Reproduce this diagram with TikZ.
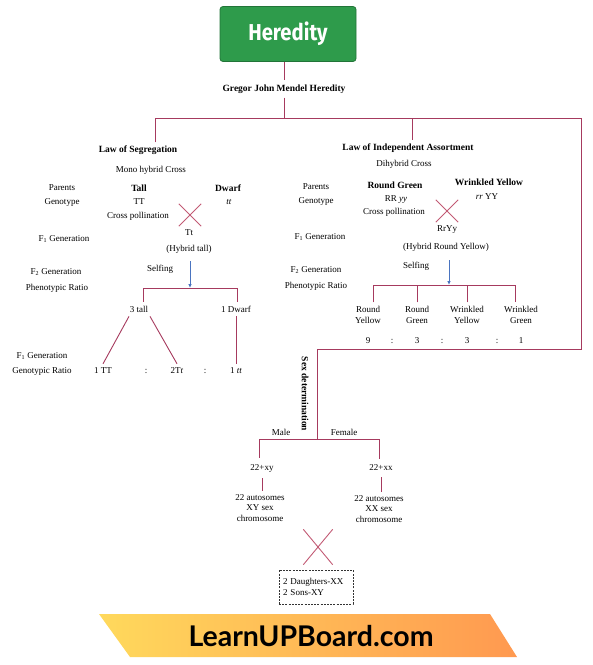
\documentclass[tikz,border=0pt]{standalone}
\usepackage{fontspec}
\setmainfont{Liberation Serif}
\newfontfamily\titlefont{Fira Sans}
\newfontfamily\bannerfont{Lato}
\usepackage{tikz}
\usetikzlibrary{arrows.meta,positioning,shapes}
\definecolor{linkred}{HTML}{A63A5E}
\definecolor{crossred}{HTML}{C25A74}
\definecolor{flowblue}{HTML}{4A74C0}
\definecolor{titlegreen}{HTML}{2E9B4B}
\definecolor{bannerY}{HTML}{FFD95C}
\definecolor{bannerO}{HTML}{FF9950}

\begin{document}
\begin{tikzpicture}[x=1pt, y=-1pt,
  txt/.style={font=\fontsize{9}{10.5}\selectfont, inner sep=1pt, align=center},
  head/.style={txt, font=\fontsize{9.5}{11}\selectfont\bfseries},
  gap/.style={txt, inner sep=4pt},
  link/.style={draw=linkred, line width=0.9pt},
  cross/.style={draw=crossred, line width=0.9pt},
  flow/.style={draw=flowblue, line width=0.8pt, -{Latex[length=4pt,width=3.5pt]}},
  xmark/.style={inner sep=0pt, minimum width=#1, minimum height=#1},
  xmark/.default=22pt
]
  \useasboundingbox (0,0) rectangle (593,665);

  \node[fill=titlegreen, draw=titlegreen!75!black, line width=0.8pt, rounded corners=3pt,
        minimum width=136pt, minimum height=55pt] (title) at (288,34)
        {\titlefont\bfseries\fontsize{23}{23}\selectfont\color{white}\scalebox{0.88}[1]{Heredity}};
  \node[head, inner sep=4pt] (gregor) at (284,89) {Gregor John Mendel Heredity};

  \coordinate (hL) at (155,118);
  \coordinate (hM) at (412,118);
  \coordinate (hR) at (581,118);
  \coordinate (sexT) at (317,349);

  \node[head, inner sep=3pt] (seg) at (138,150) {Law of Segregation};
  \node[txt] (mono) at (151,170) {Mono hybrid Cross};
  \node[txt] (parL) at (62,188) {Parents};
  \node[txt] (genL) at (62,202) {Genotype};
  \node[head] (tall) at (139,188) {Tall};
  \node[head] (dwarf) at (228,188) {Dwarf};
  \node[txt] (TT) at (139,202) {TT};
  \node[txt] (tt) at (229,202) {\textit{tt}};
  \node[txt] (pollL) at (138,216) {Cross pollination};
  \node[xmark] (xa) at (190,215) {};
  \node[txt] (f1L) at (64,239) {F\textsubscript{1} Generation};
  \node[txt] (Tt) at (189,233) {Tt};
  \node[txt] (hybT) at (189,249) {(Hybrid tall)};
  \node[txt] (f2L) at (56,272) {F\textsubscript{2} Generation};
  \node[txt] (phenL) at (57,288) {Phenotypic Ratio};
  \node[txt] (selfL) at (160,269) {Selfing};
  \coordinate (sL) at (143,288);
  \coordinate (sR) at (237,288);
  \coordinate (sM) at (190,288);
  \node[gap] (tall3) at (139,309) {3 tall};
  \node[gap] (dwarf1) at (236,309) {1 Dwarf};
  \node[txt] (f1b) at (42,356) {F\textsubscript{1} Generation};
  \node[txt] (genoR) at (42,371) {Genotypic Ratio};
  \node[gap] (gTT) at (103,371) {1 TT};
  \node[txt] (c1) at (146,371) {:};
  \node[gap] (gTt) at (177,371) {2T\textit{t}};
  \node[txt] (c2) at (205,371) {:};
  \node[gap] (gtt) at (236,371) {1 \textit{tt}};

  \node[head, inner sep=3pt] (ind) at (408,148) {Law of Independent Assortment};
  \node[txt] (dihy) at (404,164) {Dihybrid Cross};
  \node[txt] (parR) at (316,187) {Parents};
  \node[txt] (genR) at (316,201) {Genotype};
  \node[head] (rg) at (395,185) {Round Green};
  \node[head] (wy) at (489,182) {Wrinkled Yellow};
  \node[txt] (RRyy) at (396,200) {RR \textit{yy}};
  \node[txt] (rrYY) at (487,197) {\textit{rr} YY};
  \node[txt] (pollR) at (394,212) {Cross pollination};
  \node[xmark] (xb) at (447,211) {};
  \node[txt] (f1R) at (320,237) {F\textsubscript{1} Generation};
  \node[txt] (RrYy) at (447,230) {RrYy};
  \node[txt] (hybR) at (446,247) {(Hybrid Round Yellow)};
  \node[txt] (f2R) at (316,270) {F\textsubscript{2} Generation};
  \node[txt] (phenR) at (316,286) {Phenotypic Ratio};
  \node[txt] (selfR) at (416,266) {Selfing};
  \coordinate (dL) at (373,285);
  \coordinate (dR) at (515,285);
  \coordinate (dM) at (449,285);
  \node[gap] (ry) at (368,315) {Round\\Yellow};
  \node[gap] (rgr) at (417,315) {Round\\Green};
  \node[gap] (wyl) at (467,315) {Wrinkled\\Yellow};
  \node[gap] (wg) at (521,315) {Wrinkled\\Green};
  \node[txt] (n9) at (368,341) {9};
  \node[txt] at (392,341) {:};
  \node[txt] (n3a) at (417,341) {3};
  \node[txt] at (442,341) {:};
  \node[txt] (n3b) at (467,341) {3};
  \node[txt] at (497,341) {:};
  \node[txt] (n1) at (521,341) {1};

  \coordinate (mbar) at (259,439);
  \coordinate (fbar) at (379,439);
  \coordinate (sexB) at (317,439);
  \node[head, rotate=-90] (sex) at (305,394) {Sex determination};
  \node[txt] (male) at (281,432) {Male};
  \node[txt] (female) at (344,432) {Female};
  \node[gap, inner sep=6pt] (xy) at (262,468) {22+xy};
  \node[gap, inner sep=6pt] (xx) at (381,468) {22+xx};
  \node[txt, inner sep=3pt] (autoM) at (260,508) {22 autosomes\\XY sex\\chromosome};
  \node[txt, inner sep=3pt] (autoF) at (379,509) {22 autosomes\\XX sex\\chromosome};
  \node[xmark, minimum width=29pt, minimum height=35pt] (xc) at (318,547) {};
  \node[draw=black!80, dashed, dash pattern=on 2pt off 1.2pt, line width=0.6pt,
        txt, align=left, text width=66pt, inner sep=4pt, minimum height=34pt] (kids) at (316,587)
        {2 Daughters-XX\\2 Sons-XY};

  \shade[left color=bannerY, right color=bannerO]
    (99,614) -- (490,614) -- (517,657) -- (130,657) -- cycle;
  \node (banner) at (311,636) {\bannerfont\bfseries\fontsize{28.5}{28.5}\selectfont LearnUPBoard.com};

  \draw[link] (gregor|-title.south) -- (gregor);
  \draw[link] (gregor) -- (gregor|-hL);
  \draw[link] (hL|-seg.north) -- (hL) -- (hR) -- (hR|-sexT) -- (sexT) -- (sexB);
  \draw[link] (hM) -- (hM|-ind.north);

  \foreach \c in {xa,xb,xc}
    \draw[cross] (\c.north west) -- (\c.south east) (\c.north east) -- (\c.south west);

  \draw[flow] ([yshift=-7pt]hybT.south-|sM) -- (sM);
  \draw[link] (sL|-tall3.north) -- (sL) -- (sR) -- (sR|-dwarf1.north);
  \draw[link] ([xshift=-10pt]tall3.south) -- (gTT.north);
  \draw[link] ([xshift=11pt]tall3.south) -- (gTt.north);
  \draw[link] (dwarf1) -- (gtt);

  \draw[flow] ([yshift=-8pt]hybR.south-|dM) -- (dM);
  \draw[link] (dL|-ry.north) -- (dL) -- (dR) -- (dR|-wg.north);
  \draw[link] (rgr.north) -- (rgr.north|-dL);
  \draw[link] (wyl.north) -- (wyl.north|-dL);

  \draw[link] (mbar|-xy.north) -- (mbar) -- (fbar) -- (fbar|-xx.north);
  \draw[link] (xy) -- (xy|-autoM.north);
  \draw[link] (xx) -- (xx|-autoF.north);
\end{tikzpicture}
\end{document}
